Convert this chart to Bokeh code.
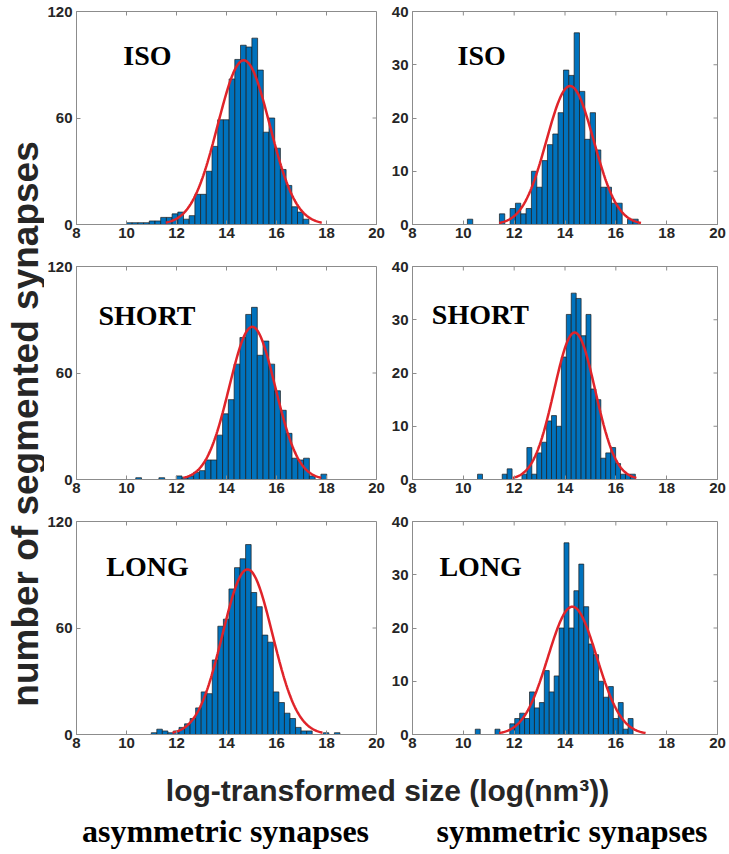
import numpy as np
from bokeh.plotting import figure
from bokeh.models import Range1d, FixedTicker
from bokeh.layouts import row, column
from bokeh.embed import file_html
from bokeh.resources import INLINE
from bokeh.core.properties import value

# ---------------- data ----------------
x_ticks = [8, 10, 12, 14, 16, 18, 20]
asym_y_ticks = [0, 60, 120]
sym_y_ticks = [0, 10, 20, 30, 40]
conditions = ["ISO", "SHORT", "LONG"]
column_titles = ["asymmetric synapses", "symmetric synapses"]
x_title = "log-transformed size (log(nm³))"
y_title = "number of segmented synapses"

# histogram bins: first left edge, bin width, counts per bin
iso_asym_start, iso_asym_width = 10.0, 0.228
iso_asym_counts = [1, 1, 1, 1, 2, 2, 4, 4, 6, 7, 3, 5, 17, 17, 30, 44,
                   59, 59, 82, 93, 101, 100, 105, 87, 52, 60, 43, 31, 22, 10, 7, 3]
iso_sym_start, iso_sym_width = 10.16, 0.21
iso_sym_counts = [1, 0, 0, 0, 0, 0, 2, 0, 3, 4, 2, 3, 10, 7, 12, 15,
                  17, 21, 29, 28, 36, 25, 16, 21, 14, 7, 7, 4, 4, 0, 1, 1]

short_asym_start, short_asym_width = 10.37, 0.2315
short_asym_counts = [1, 0, 0, 0, 1, 0, 0, 2, 1, 2, 4, 5, 11, 11, 25, 37, 45,
                     65, 80, 93, 97, 70, 78, 65, 50, 39, 26, 12, 11, 12, 2, 0, 3]
short_sym_start, short_sym_width = 10.56, 0.194
short_sym_counts = [1, 0, 0, 0, 0, 1, 2, 0, 0, 1, 6, 1, 5, 7, 11, 12,
                    10, 23, 31, 35, 34, 27, 31, 17, 15, 4, 5, 6, 3, 1, 1, 1]

long_asym_start, long_asym_width = 10.99, 0.222
long_asym_counts = [1, 3, 2, 1, 2, 4, 6, 9, 15, 24, 23, 42, 61, 65, 82, 94, 99,
                    107, 80, 72, 56, 52, 24, 18, 12, 9, 4, 2, 2, 0, 0, 1, 0, 1]
long_sym_start, long_sym_width = 10.47, 0.194
long_sym_counts = [1, 0, 0, 0, 1, 0, 0, 2, 3, 4, 3, 8, 5, 6, 12, 8,
                   11, 20, 36, 20, 27, 32, 24, 17, 15, 10, 7, 9, 3, 6, 1, 3]

# fitted normal curves: mean, sd, peak height
iso_asym_fit = [14.69, 1.04, 92.5]
iso_sym_fit = [14.20, 0.93, 26.0]
short_asym_fit = [15.03, 0.92, 86.0]
short_sym_fit = [14.38, 0.81, 27.6]
long_asym_fit = [14.84, 1.00, 93.0]
long_sym_fit = [14.29, 0.96, 24.0]

# ---------------- styling ----------------
BAR = "#0072BD"
EDGE = "#1b1b1b"
RED = "#e0242a"
AXC = "#8c8c8c"
TXT = "#262626"
SANS = "Liberation Sans"
SERIF = "Liberation Serif"
TICK_PX = 4
FRAME_H = 213


def style_axis(ax, standoff):
    ax.axis_line_color = AXC
    ax.major_tick_line_color = AXC
    ax.minor_tick_line_color = None
    ax.major_tick_in = TICK_PX
    ax.major_tick_out = 0
    ax.major_label_standoff = standoff
    ax.major_label_text_font = SANS
    ax.major_label_text_font_style = "bold"
    ax.major_label_text_font_size = "15px"
    ax.major_label_text_color = TXT


def panel(start, width, counts, fit, ymax, yticks, label, lx, ly,
          w, h, bl, br, bt, bb):
    p = figure(width=w, height=h, x_range=Range1d(8, 20), y_range=Range1d(0, ymax),
               toolbar_location=None, output_backend="svg",
               min_border_left=bl, min_border_right=br,
               min_border_top=bt, min_border_bottom=bb)
    p.xgrid.visible = False
    p.ygrid.visible = False
    p.outline_line_color = AXC
    p.background_fill_color = "white"
    p.border_fill_color = "white"

    edges = start + width * np.arange(len(counts) + 1)
    p.quad(left=edges[:-1], right=edges[1:], bottom=0, top=counts,
           fill_color=BAR, line_color=EDGE, line_width=0.7)

    mu, sd, amp = fit
    xs = np.linspace(mu - 3 * sd, mu + 3 * sd, 200)
    p.line(xs, amp * np.exp(-0.5 * ((xs - mu) / sd) ** 2),
           line_color=RED, line_width=2.5)

    p.text(x=[lx], y=[ly], text=[label], text_font=value(SERIF),
           text_font_style="bold", text_font_size="28px", text_color="black",
           text_align="left", text_baseline="middle")

    p.xaxis.ticker = FixedTicker(ticks=x_ticks)
    p.yaxis.ticker = FixedTicker(ticks=yticks)
    style_axis(p.xaxis[0], 3)
    style_axis(p.yaxis[0], 4)

    # inward ticks on the top and right edges of the box (MATLAB style)
    frame_w = w - bl - br
    ty = ymax * TICK_PX / FRAME_H
    tx = 12.0 * TICK_PX / frame_w
    xt = np.array(x_ticks, dtype=float)
    yt = np.array(yticks, dtype=float)
    p.segment(x0=xt, y0=np.full(len(xt), ymax), x1=xt, y1=np.full(len(xt), ymax - ty),
              line_color=AXC, line_width=1)
    p.segment(x0=np.full(len(yt), 20.0), y0=yt, x1=np.full(len(yt), 20.0 - tx), y1=yt,
              line_color=AXC, line_width=1)
    return p


def text_fig(w, h):
    p = figure(width=w, height=h, x_range=Range1d(0, w), y_range=Range1d(0, h),
               toolbar_location=None, output_backend="svg", min_border=0,
               x_axis_location=None, y_axis_location=None)
    p.xgrid.visible = False
    p.ygrid.visible = False
    p.outline_line_color = None
    p.background_fill_color = "white"
    p.border_fill_color = "white"
    return p


# row geometry: (figure height, top border, bottom border)
rows_geo = [(255, 11, 31), (255, 11, 31), (255, 11, 31)]
YLW = 44
LW, LBL, LBR = 341, 29, 9      # left panel figure: x 44 -> 385, frame 73 -> 376
RW, RBL, RBR = 344, 27, 12     # right panel figure: x 385 -> 729, frame 412 -> 717

# label anchor (x value, y value at the label's vertical middle)
specs = [
    (iso_asym_start, iso_asym_width, iso_asym_counts, iso_asym_fit, 9.87, 95.2,
     iso_sym_start, iso_sym_width, iso_sym_counts, iso_sym_fit, 9.77, 31.7),
    (short_asym_start, short_asym_width, short_asym_counts, short_asym_fit, 8.88, 92.6,
     short_sym_start, short_sym_width, short_sym_counts, short_sym_fit, 8.76, 30.9),
    (long_asym_start, long_asym_width, long_asym_counts, long_asym_fit, 9.19, 94.5,
     long_sym_start, long_sym_width, long_sym_counts, long_sym_fit, 9.06, 31.5),
]

panel_rows = []
for i, (s1, w1, c1, f1, x1, y1, s2, w2, c2, f2, x2, y2) in enumerate(specs):
    h, bt, bb = rows_geo[i]
    left = panel(s1, w1, c1, f1, 120, asym_y_ticks, conditions[i], x1, y1,
                 LW, h, LBL, LBR, bt, bb)
    right = panel(s2, w2, c2, f2, 40, sym_y_ticks, conditions[i], x2, y2,
                  RW, h, RBL, RBR, bt, bb)
    panel_rows.append(row(left, right, spacing=0))

grid_h = sum(g[0] for g in rows_geo)

# y title
ylab = text_fig(YLW, grid_h)
ylab.text(x=[24.5], y=[grid_h - 423.5], text=[y_title], angle=np.pi / 2,
          text_font=value(SANS), text_font_style="bold", text_font_size="37px",
          text_color=TXT, text_align="center", text_baseline="middle")

# bottom titles
BH = 854 - grid_h
bottom = text_fig(729, BH)
bottom.text(x=[387], y=[BH - 24.6], text=[x_title], text_font=value(SANS),
            text_font_style="bold", text_font_size="30px", text_color=TXT,
            text_align="center", text_baseline="middle")
bottom.text(x=[225, 571.5], y=[BH - 65.5, BH - 65.5], text=column_titles,
            text_font=value(SERIF), text_font_style="bold", text_font_size="32px",
            text_color="black", text_align="center", text_baseline="middle")

layout = column(row(ylab, column(*panel_rows, spacing=0), spacing=0), bottom, spacing=0)

open("out.html", "w").write(file_html(layout, INLINE))
